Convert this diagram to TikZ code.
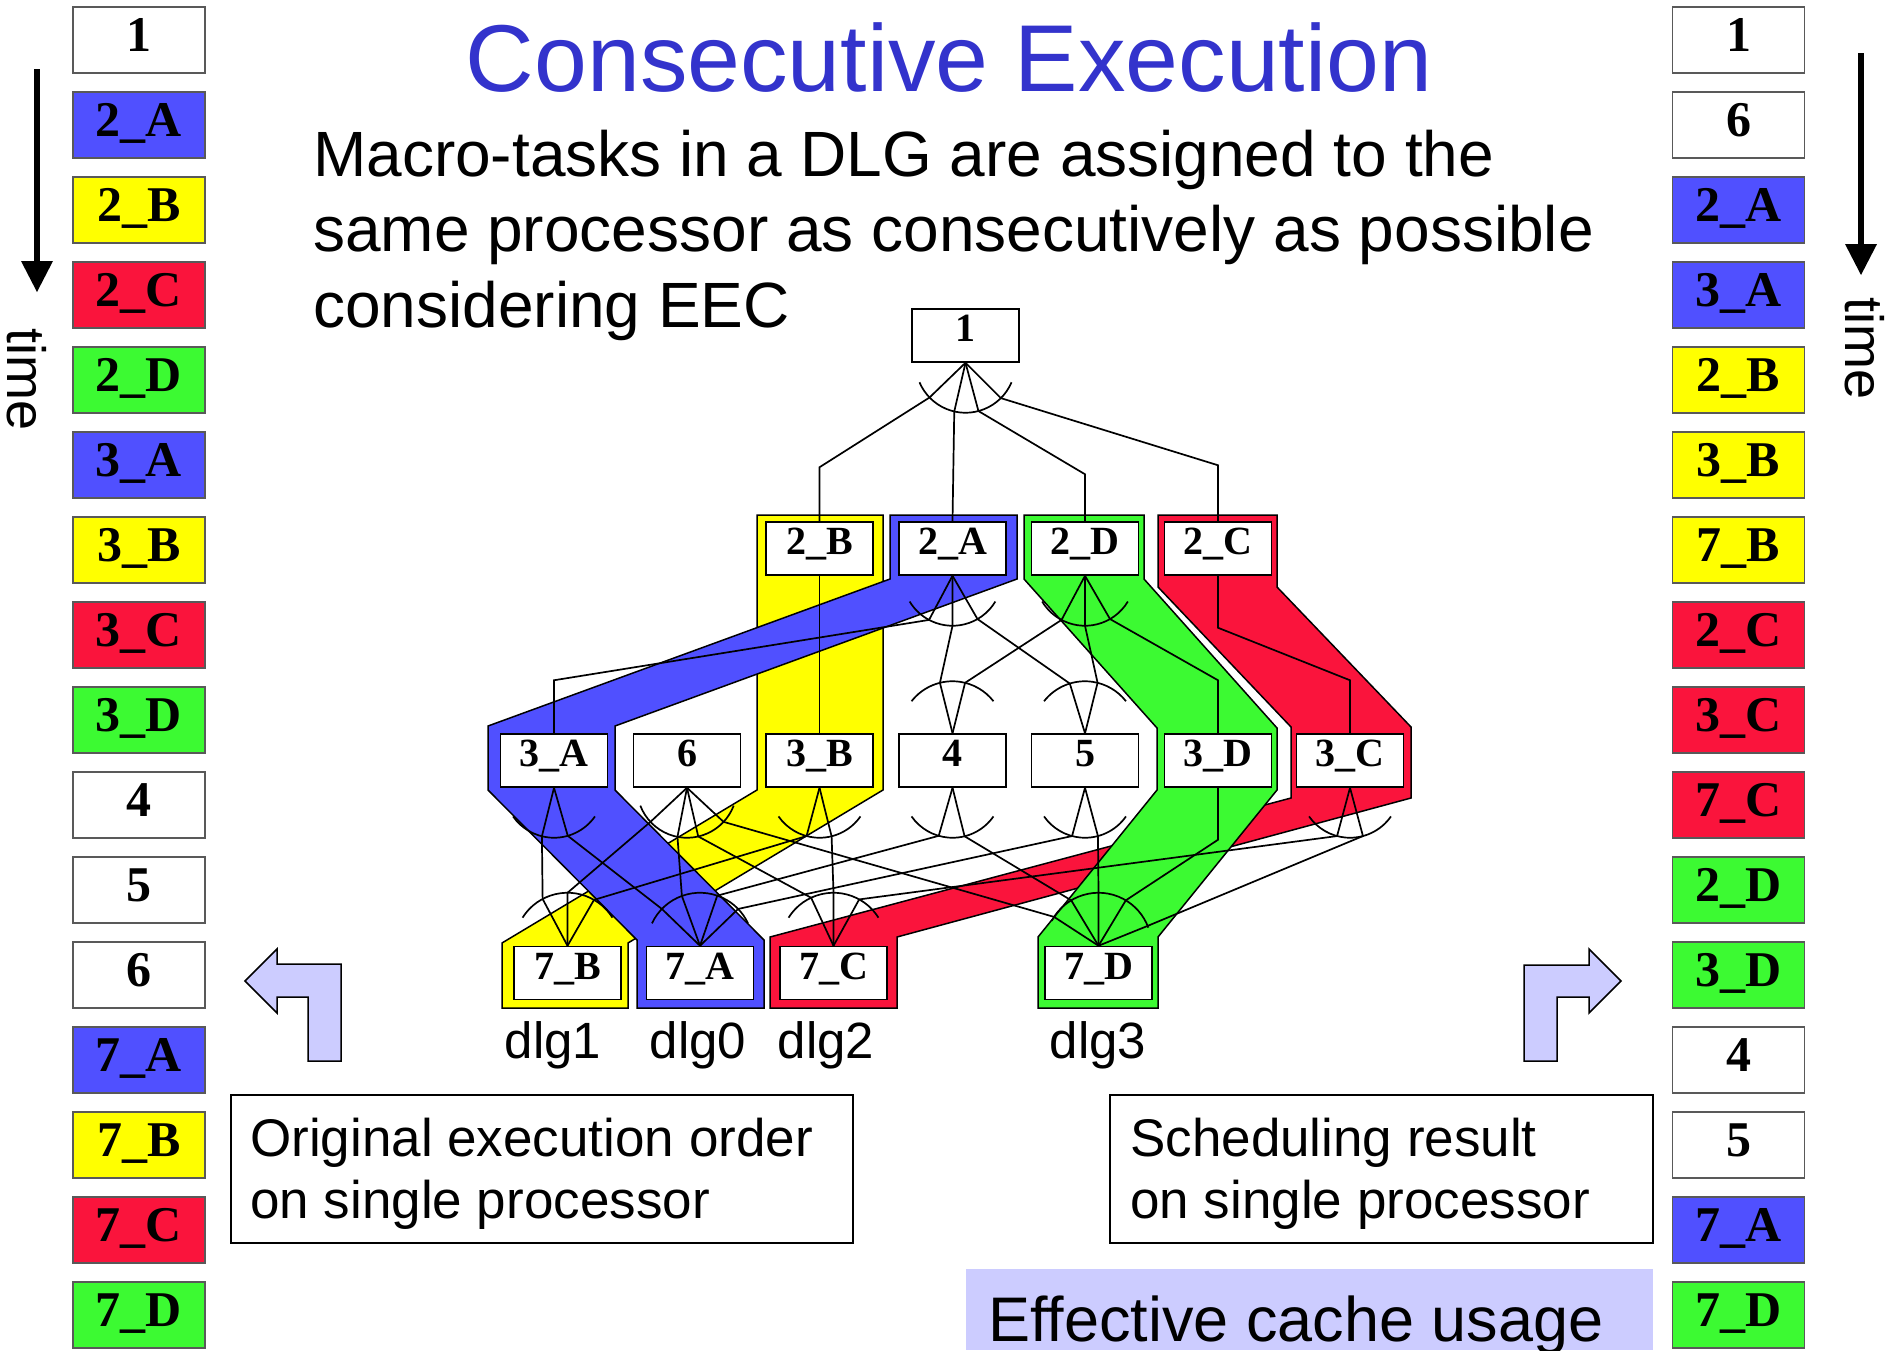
\documentclass[tikz,border=0pt]{standalone}
\usepackage{fontspec}
\setmainfont{Liberation Sans}
\newfontfamily\labfont{Liberation Serif}
\usetikzlibrary{calc}

\definecolor{dlgblue}{RGB}{80,80,255}
\definecolor{dlgyellow}{RGB}{255,255,0}
\definecolor{dlgred}{RGB}{250,20,60}
\definecolor{dlggreen}{RGB}{60,250,50}
\definecolor{titleblue}{RGB}{51,51,204}
\definecolor{lavender}{RGB}{204,204,255}

\tikzset{
  gbox/.style={draw=black, line width=1.5pt, fill=white, minimum width=107pt,
    minimum height=53pt, inner sep=0pt, text height=12pt, text depth=0pt,
    font=\labfont\bfseries\fontsize{40}{40}\selectfont},
  tbox/.style={draw=black!65, line width=1.2pt, minimum width=132pt,
    minimum height=66pt, inner sep=0pt, text height=22pt, text depth=0pt,
    font=\labfont\bfseries\fontsize{50}{50}\selectfont},
  band/.style={draw=black, line width=1.5pt, line join=miter},
  edge/.style={draw=black, line width=1.7pt},
  blockarrow/.style={draw=black, line width=1.5pt, fill=lavender},
  timearrow/.style={line width=6pt},
  timelabel/.style={rotate=-90, anchor=base west, inner sep=0pt,
    font=\fontsize{54}{54}\selectfont},
  dlglabel/.style={anchor=base, inner sep=0pt, font=\fontsize{51}{51}\selectfont},
  note/.style={draw=black, line width=1.5pt, inner sep=0pt, anchor=north west},
  notetext/.style={anchor=base west, align=left, inner sep=0pt,
    font=\fontsize{53}{62}\selectfont},
  subline/.style={anchor=base west, inner sep=0pt, font=\fontsize{64}{75}\selectfont}
}

% edge: source, source-arc angle, source radius, target, target-arc angle, target radius
\newcommand\depedge[6]{\draw[edge] (#1.south) -- ([shift={(#2:#3)}]#1.south)
  -- ([shift={(#5:#6)}]#4.north) -- (#4.north);}
% arcs crossing the outgoing / incoming edges of a macro-task
\newcommand\outarc[4]{\draw[edge] ([shift={(#2:#4)}]#1.south)
  arc[start angle=#2, end angle=#3, radius=#4];}
\newcommand\inarc[4]{\draw[edge] ([shift={(#2:#4)}]#1.north)
  arc[start angle=#2, end angle=#3, radius=#4];}

\begin{document}
\begin{tikzpicture}[x=1pt, y=-1pt]
\useasboundingbox[fill=white] (0,0) rectangle (1900,1350);

% ---------- title and explanation ----------
\node[anchor=base, inner sep=0pt, text=titleblue, font=\fontsize{95}{95}\selectfont]
  (title) at (949,91) {Consecutive Execution};
\node[subline] (sub1) at (313,176) {Macro-tasks in a DLG are assigned to the};
\node[subline] (sub2) at (313,251) {same processor as consecutively as possible};
\node[subline] (sub3) at (313,327) {considering EEC};

% ---------- execution orders on a single processor ----------
\foreach \lab/\col [count=\i from 0] in
  {1/white, 2\_A/dlgblue, 2\_B/dlgyellow, 2\_C/dlgred, 2\_D/dlggreen,
   3\_A/dlgblue, 3\_B/dlgyellow, 3\_C/dlgred, 3\_D/dlggreen,
   4/white, 5/white, 6/white,
   7\_A/dlgblue, 7\_B/dlgyellow, 7\_C/dlgred, 7\_D/dlggreen}
  \node[tbox, fill=\col] (L\i) at (139,{40+85*\i}) {\lab};

\foreach \lab/\col [count=\i from 0] in
  {1/white, 6/white, 2\_A/dlgblue, 3\_A/dlgblue, 2\_B/dlgyellow, 3\_B/dlgyellow,
   7\_B/dlgyellow, 2\_C/dlgred, 3\_C/dlgred, 7\_C/dlgred, 2\_D/dlggreen,
   3\_D/dlggreen, 4/white, 5/white, 7\_A/dlgblue, 7\_D/dlggreen}
  \node[tbox, fill=\col] (R\i) at (1738.5,{40+85*\i}) {\lab};

% time arrows
\coordinate (tlA) at (37,69);   \coordinate (tlB) at (37,292);
\coordinate (trA) at (1861,53); \coordinate (trB) at (1861,275);
\draw[timearrow] (tlA) -- ([shift={(0,-28)}]tlB);
\fill (tlB) -- ++(-16,-31) -- ++(32,0) -- cycle;
\draw[timearrow] (trA) -- ([shift={(0,-28)}]trB);
\fill (trB) -- ++(-16,-31) -- ++(32,0) -- cycle;
\node[timelabel] (timeL) at (8,328) {time};
\node[timelabel] (timeR) at (1845,297) {time};

% ---------- data-localization groups ----------
\filldraw[band, fill=dlgyellow] (757,515) -- (883,515) -- (883,790) -- (628,943)
  -- (628,1008) -- (502,1008) -- (502,943) -- (757,790) -- cycle;
\filldraw[band, fill=dlgblue] (890,515) -- (1017,515) -- (1017,579) -- (615,726)
  -- (615,790) -- (764,940) -- (764,1008) -- (637,1008) -- (637,940)
  -- (488,790) -- (488,726) -- (890,579) -- cycle;
\filldraw[band, fill=dlgred] (1158,515) -- (1277,515) -- (1277,587) -- (1411,727)
  -- (1411,798) -- (897,937) -- (897,1008) -- (770,1008) -- (770,937)
  -- (1291,798) -- (1291,727) -- (1158,587) -- cycle;
\filldraw[band, fill=dlggreen] (1024,515) -- (1144,515) -- (1144,579) -- (1277,728)
  -- (1277,790) -- (1158,937) -- (1158,1008) -- (1038,1008) -- (1038,937)
  -- (1157,790) -- (1157,728) -- (1024,579) -- cycle;

% ---------- macro-task graph ----------
\node[gbox] (n1)  at (965.5,335.5) {1};
\node[gbox] (n2B) at (819.5,548.5) {2\_B};
\node[gbox] (n2A) at (952.5,548.5) {2\_A};
\node[gbox] (n2D) at (1085,548.5)  {2\_D};
\node[gbox] (n2C) at (1218,548.5)  {2\_C};
\node[gbox] (n3A) at (554,760.5)   {3\_A};
\node[gbox] (n6)  at (687,760.5)   {6};
\node[gbox] (n3B) at (819.5,760.5) {3\_B};
\node[gbox] (n4)  at (952.5,760.5) {4};
\node[gbox] (n5)  at (1085,760.5)  {5};
\node[gbox] (n3D) at (1218,760.5)  {3\_D};
\node[gbox] (n3C) at (1350,760.5)  {3\_C};
\node[gbox] (n7B) at (567.5,973)   {7\_B};
\node[gbox] (n7A) at (700,973)     {7\_A};
\node[gbox] (n7C) at (833.5,973)   {7\_C};
\node[gbox] (n7D) at (1098.5,973)  {7\_D};

% from 1
\draw[edge] (n1.south) -- ([shift={(136:50)}]n1.south) -- ([shift={(0,-54)}]n2B.north) -- (n2B.north);
\draw[edge] (n1.south) -- ([shift={(103:50)}]n1.south) -- (n2A.north);
\draw[edge] (n1.south) -- ([shift={(75:50)}]n1.south) -- ([shift={(0,-47)}]n2D.north) -- (n2D.north);
\draw[edge] (n1.south) -- ([shift={(45:50)}]n1.south) -- ([shift={(0,-56)}]n2C.north) -- (n2C.north);
\outarc{n1}{23}{157}{50}

% from the second layer
\draw[edge] (n2B.south) -- (n3B.north);
\draw[edge] (n2A.south) -- ([shift={(118:50)}]n2A.south) -- ([shift={(0,-53)}]n3A.north) -- (n3A.north);
\depedge{n2A}{90}{50}{n4}{256}{52}
\depedge{n2A}{60}{50}{n5}{253}{52}
\depedge{n2D}{118}{50}{n4}{284}{52}
\depedge{n2D}{90}{50}{n5}{284}{52}
\draw[edge] (n2D.south) -- ([shift={(60:50)}]n2D.south) -- ([shift={(0,-53)}]n3D.north) -- (n3D.north);
\draw[edge] (n2C.south) -- ([shift={(0,52)}]n2C.south) -- ([shift={(0,-53)}]n3C.north) -- (n3C.north);
\outarc{n2A}{31}{149}{50}
\outarc{n2D}{31}{149}{50}
\inarc{n4}{218}{322}{52}
\inarc{n5}{218}{322}{52}

% from the third layer
\depedge{n3A}{104}{50}{n7B}{242}{53}
\depedge{n3A}{74}{50}{n7A}{224}{53}
\depedge{n6}{137}{50}{n7B}{270}{53}
\depedge{n6}{101}{50}{n7A}{250}{53}
\depedge{n6}{77}{50}{n7C}{245}{53}
\depedge{n6}{43}{50}{n7D}{213}{53}
\depedge{n3B}{105}{50}{n7B}{300}{53}
\depedge{n3B}{76}{50}{n7C}{270}{53}
\depedge{n4}{106}{50}{n7A}{289}{53}
\depedge{n4}{76}{50}{n7D}{239}{53}
\depedge{n5}{105}{50}{n7A}{316}{53}
\depedge{n5}{75}{50}{n7D}{270}{53}
\draw[edge] (n3D.south) -- ([shift={(0,52)}]n3D.south) -- ([shift={(301:53)}]n7D.north) -- (n7D.north);
\depedge{n3C}{105}{50}{n7C}{299}{53}
\depedge{n3C}{75}{50}{n7D}{338}{53}
\outarc{n3A}{35}{145}{50}
\outarc{n6}{21}{159}{50}
\outarc{n3B}{35}{145}{50}
\outarc{n4}{35}{145}{50}
\outarc{n5}{35}{145}{50}
\outarc{n3C}{35}{145}{50}
\inarc{n7B}{212}{328}{53}
\inarc{n7A}{205}{335}{53}
\inarc{n7C}{212}{328}{53}
\inarc{n7D}{208}{340}{53}

% group names
\node[dlglabel] (d1) at (553,1058) {dlg1};
\node[dlglabel] (d0) at (698,1058) {dlg0};
\node[dlglabel] (d2) at (826,1058) {dlg2};
\node[dlglabel] (d3) at (1098,1058) {dlg3};

% ---------- bent block arrows ----------
\draw[blockarrow] (245,981) -- (277,949) -- (277,964) -- (341,964) -- (341,1061)
  -- (308,1061) -- (308,997) -- (277,997) -- (277,1013) -- cycle;
\draw[blockarrow] (1621,981) -- (1589,949) -- (1589,965) -- (1524,965) -- (1524,1061)
  -- (1557,1061) -- (1557,997) -- (1589,997) -- (1589,1013) -- cycle;

% ---------- notes (anchor base = baseline of the last line) ----------
\node[note, minimum width=622pt, minimum height=148pt] (orig) at (230,1094) {};
\node[notetext] (origtext) at (250,1218) {Original execution order\\on single processor};
\node[note, minimum width=543pt, minimum height=148pt] (sched) at (1109,1094) {};
\node[notetext] (schedtext) at (1130,1218) {Scheduling result\\on single processor};
\fill[lavender] (966,1269) rectangle (1653,1350);
\node[anchor=base west, inner sep=0pt, font=\fontsize{63}{63}\selectfont]
  (cache) at (988,1341) {Effective cache usage};
\end{tikzpicture}
\end{document}
